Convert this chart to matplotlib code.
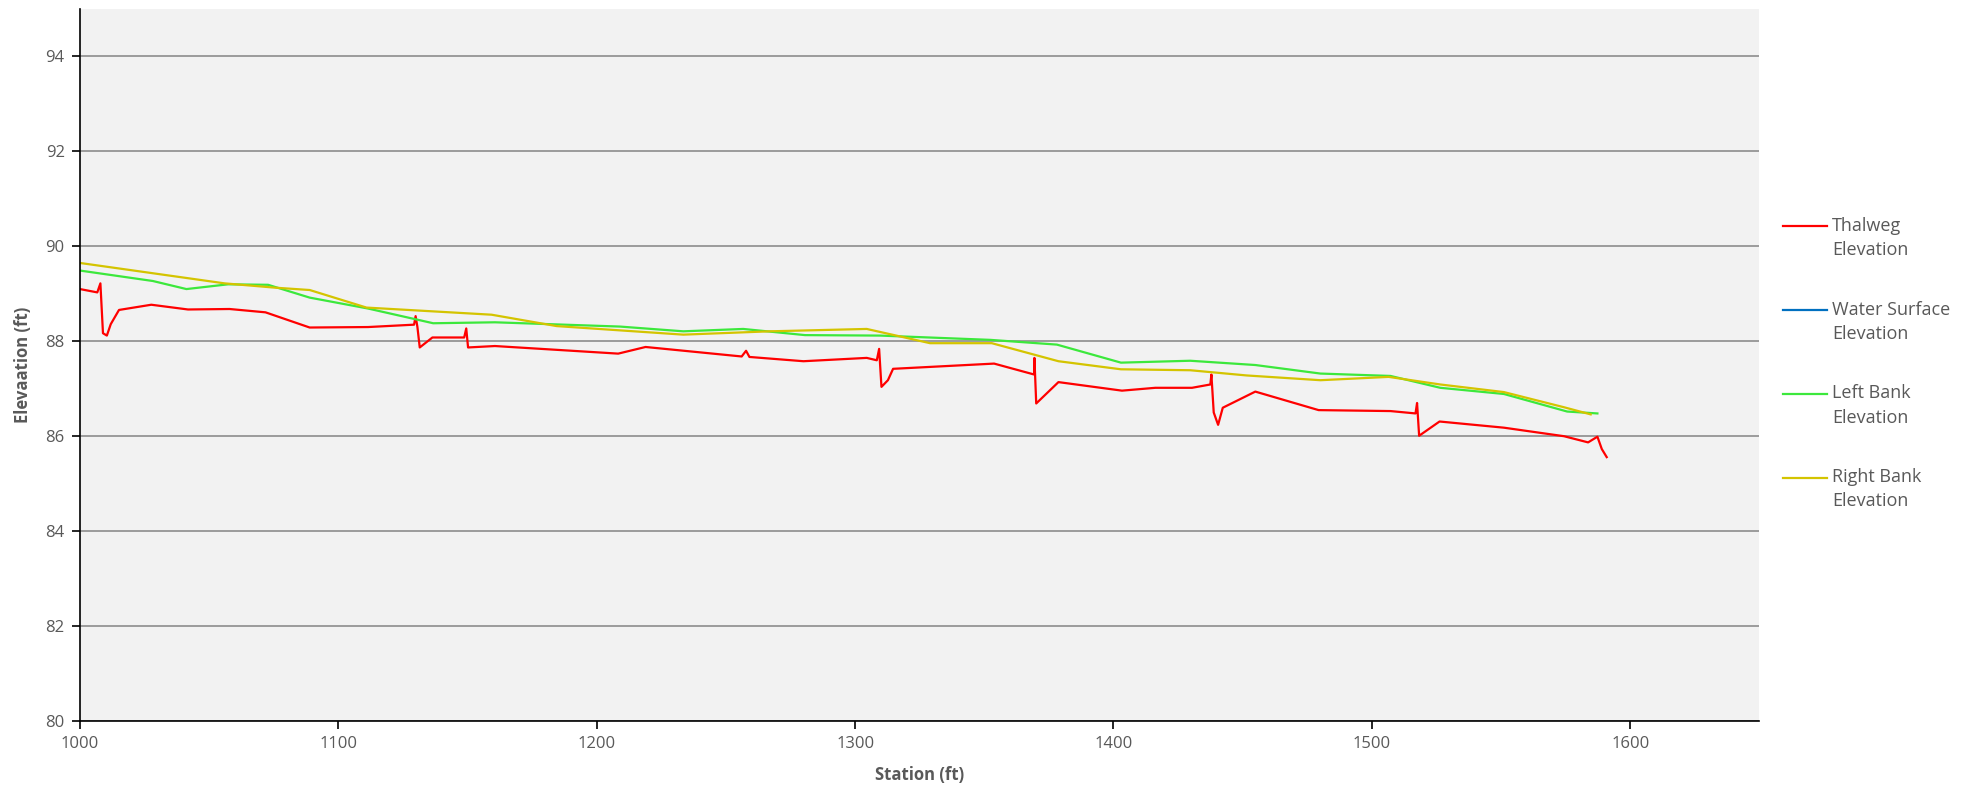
import matplotlib
matplotlib.use("Agg")
import matplotlib.pyplot as plt

# Thalweg profile (station ft, elevation ft)
thalweg_sta = [1000.0, 1006.7, 1007.9, 1008.9, 1010.4, 1011.9, 1015.1, 1027.6, 1041.8,
               1057.9, 1071.8, 1088.9, 1111.5, 1129.3, 1129.9, 1130.6, 1131.5, 1136.4,
               1148.7, 1149.5, 1150.2, 1160.6, 1208.3, 1218.9, 1256.1, 1257.8, 1259.1,
               1280.0, 1304.5, 1308.4, 1309.3, 1310.2, 1312.7, 1314.7, 1353.8, 1369.3,
               1369.4, 1370.1, 1378.7, 1403.3, 1416.2, 1430.4, 1437.5, 1437.9, 1438.8,
               1440.5, 1442.3, 1454.9, 1479.4, 1507.2, 1516.9, 1517.5, 1518.3, 1526.2,
               1551.1, 1574.4, 1583.7, 1587.3, 1589.0, 1590.9]
thalweg_elev = [89.10, 89.03, 89.22, 88.17, 88.12, 88.36, 88.66, 88.77, 88.67,
                88.68, 88.61, 88.29, 88.30, 88.35, 88.53, 88.30, 87.87, 88.08,
                88.08, 88.27, 87.87, 87.90, 87.74, 87.88, 87.68, 87.80, 87.67,
                87.58, 87.65, 87.60, 87.84, 87.04, 87.18, 87.42, 87.53, 87.30,
                87.65, 86.69, 87.14, 86.96, 87.02, 87.02, 87.09, 87.30, 86.50,
                86.24, 86.60, 86.94, 86.55, 86.53, 86.48, 86.70, 86.01, 86.31,
                86.18, 86.00, 85.87, 85.99, 85.73, 85.56]

# no water surface values in the profile
ws_sta = []
ws_elev = []

lb_sta = [1000.0, 1028.2, 1041.2, 1057.3, 1072.8, 1088.9, 1111.5, 1136.7, 1160.6,
          1209.0, 1233.5, 1256.7, 1280.6, 1309.7, 1352.3, 1378.1, 1402.9, 1429.7,
          1454.9, 1480.1, 1507.2, 1526.5, 1551.1, 1575.6, 1587.3]
lb_elev = [89.49, 89.27, 89.10, 89.20, 89.19, 88.92, 88.69, 88.38, 88.40,
           88.31, 88.21, 88.26, 88.13, 88.12, 88.03, 87.93, 87.55, 87.59,
           87.50, 87.32, 87.27, 87.02, 86.89, 86.52, 86.48]

rb_sta = [1000.0, 1056.0, 1075.4, 1088.9, 1110.9, 1159.3, 1184.5, 1233.5, 1267.0,
          1304.5, 1329.0, 1352.9, 1378.7, 1402.9, 1429.7, 1451.6, 1480.1, 1506.5,
          1526.5, 1551.1, 1574.4, 1584.7]
rb_elev = [89.65, 89.22, 89.13, 89.08, 88.71, 88.56, 88.32, 88.14, 88.21,
           88.26, 87.96, 87.96, 87.58, 87.41, 87.39, 87.28, 87.18, 87.25,
           87.09, 86.93, 86.61, 86.46]

plt.rcParams['font.family'] = ['Open Sans', 'DejaVu Sans']
txt = '#595959'

fig = plt.figure(figsize=(19.7, 7.9), dpi=100)
ax = fig.add_axes([0.0406, 0.0873, 0.8525, 0.9013])
ax.set_facecolor('#f2f2f2')

ax.plot(thalweg_sta, thalweg_elev, color='#ff0000', lw=1.6, label='Thalweg\nElevation')
ax.plot(ws_sta, ws_elev, color='#0070c0', lw=1.6, label='Water Surface\nElevation')
ax.plot(lb_sta, lb_elev, color='#3ce83c', lw=1.6, label='Left Bank\nElevation')
ax.plot(rb_sta, rb_elev, color='#d4c400', lw=1.6, label='Right Bank\nElevation')

ax.set_xlim(1000, 1650)
ax.set_ylim(80, 95)
ax.set_xticks([1000, 1100, 1200, 1300, 1400, 1500, 1600])
ax.set_yticks([80, 82, 84, 86, 88, 90, 92, 94])
ax.grid(axis='y', color='#8c8c8c', lw=1.2)
ax.set_axisbelow(True)

for s in ['top', 'right']:
    ax.spines[s].set_visible(False)
for s in ['left', 'bottom']:
    ax.spines[s].set_color('black')
    ax.spines[s].set_linewidth(1.2)
ax.tick_params(direction='out', length=6, width=1.2, color='black',
               labelcolor=txt, labelsize=12, pad=5)

ax.set_xlabel('Station (ft)', fontsize=12, fontweight='bold', color=txt, labelpad=10)
ax.set_ylabel('Elevaation (ft)', fontsize=12, fontweight='bold', color=txt, labelpad=10)

leg = ax.legend(loc='center left', bbox_to_anchor=(1.0046, 0.502), frameon=False,
                fontsize=13, handlelength=2.4, handletextpad=0.3,
                labelspacing=2.3, labelcolor=txt)
for t in leg.get_texts():
    t.set_linespacing(1.45)
# handle sits level with the first text line, as in the source chart
for ln in leg.get_lines():
    ln.set_ydata([v + 9 for v in ln.get_ydata()])

fig.savefig('out.png', dpi=100)
